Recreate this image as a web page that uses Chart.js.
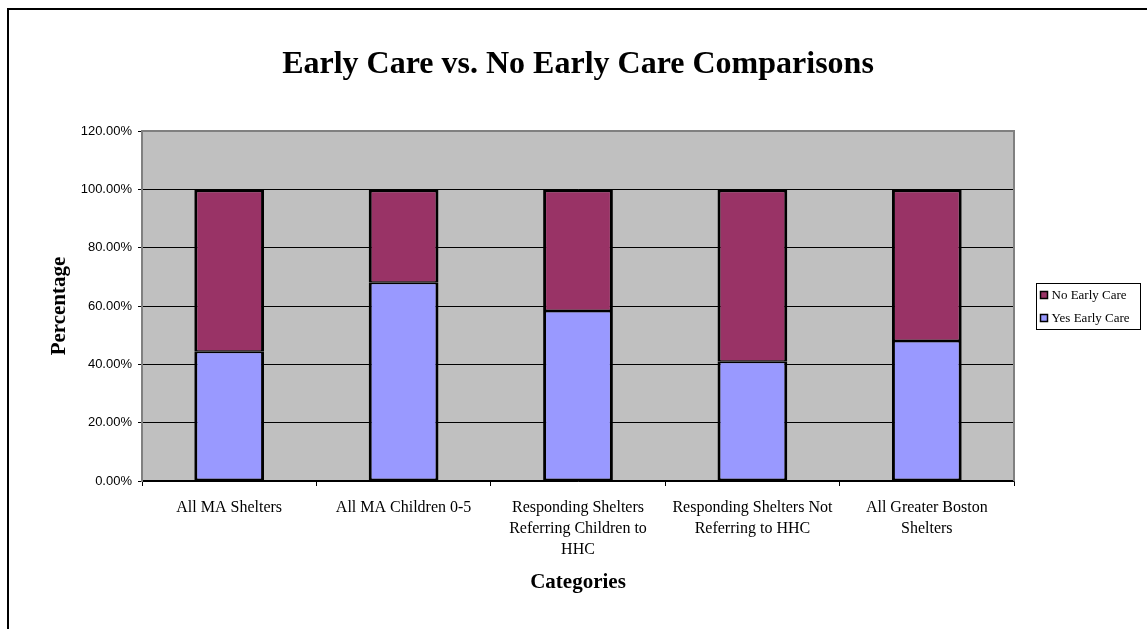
<!DOCTYPE html>
<html>
<head>
<meta charset="utf-8">
<title>Early Care vs. No Early Care Comparisons</title>
<script src="https://cdn.jsdelivr.net/npm/chart.js@4/dist/chart.umd.min.js"></script>
<style>
  html, body { margin: 0; padding: 0; background: #fff; overflow: hidden; }
  #wrap { position: relative; width: 1147px; height: 629px; }
  #frame { position: absolute; left: 7px; top: 8px; width: 1400px; height: 900px;
           border-left: 2px solid #000; border-top: 2px solid #000; pointer-events: none; }
  canvas { position: absolute; left: 0; top: 0; }
</style>
</head>
<body>
<div id="wrap">
  <canvas id="chart" width="1147" height="629"></canvas>
  <div id="frame"></div>
</div>
<script>
// Shelter categories (multi-line tick labels)
const categories = [
  ['All MA Shelters'],
  ['All MA Children 0-5'],
  ['Responding Shelters', 'Referring Children to', 'HHC'],
  ['Responding Shelters Not', 'Referring to HHC'],
  ['All Greater Boston', 'Shelters']
];
// Share of children with early care, in percent
const yesEarlyCare = [44.3, 68.0, 58.3, 40.9, 48.0];
// Share of children without early care, in percent
const noEarlyCare = [55.7, 32.0, 41.7, 59.1, 52.0];
// Value axis range and tick step
const yTicks = { min: 0, max: 120, step: 20 };

const serif = "'Liberation Serif', 'Times New Roman', Times, serif";
const sans = "'Liberation Sans', Arial, Helvetica, sans-serif";

// Grey plot background plus its top/right frame
const plotFrame = {
  id: 'plotFrame',
  beforeDraw(chart) {
    const { ctx, chartArea: a } = chart;
    ctx.save();
    ctx.fillStyle = '#C0C0C0';
    ctx.fillRect(a.left, a.top, a.right - a.left, a.bottom - a.top);
    ctx.restore();
  },
  beforeDatasetsDraw(chart) {
    const { ctx, chartArea: a } = chart;
    ctx.save();
    ctx.strokeStyle = '#808080';
    ctx.lineWidth = 2;
    ctx.beginPath();
    ctx.moveTo(a.left, a.top);
    ctx.lineTo(a.right, a.top);
    ctx.lineTo(a.right, a.bottom);
    ctx.stroke();
    ctx.restore();
  }
};

// Boxed legend on the right, top series listed first
const boxedLegend = {
  id: 'boxedLegend',
  afterDraw(chart) {
    const { ctx, chartArea: a } = chart;
    const items = chart.data.datasets.slice().reverse();
    const boxX = a.right + 22.5, boxW = 104, rowH = 23;
    const boxH = items.length * rowH;
    const midY = (a.top + a.bottom) / 2;
    const boxY = Math.round(midY - boxH / 2) + 0.5;
    ctx.save();
    ctx.strokeStyle = '#000';
    ctx.lineWidth = 1;
    ctx.strokeRect(boxX, boxY, boxW, boxH);
    ctx.font = '13px ' + serif;
    ctx.textBaseline = 'middle';
    ctx.textAlign = 'left';
    items.forEach((ds, i) => {
      const cy = boxY + rowH / 2 + i * rowH;
      ctx.fillStyle = ds.backgroundColor;
      ctx.fillRect(boxX + 4, cy - 3.5, 7, 7);
      ctx.strokeStyle = '#000';
      ctx.lineWidth = 1.5;
      ctx.strokeRect(boxX + 4, cy - 3.5, 7, 7);
      ctx.fillStyle = '#000';
      ctx.fillText(ds.label, boxX + 15, cy + 0.5);
    });
    ctx.restore();
  }
};

new Chart(document.getElementById('chart'), {
  type: 'bar',
  data: {
    labels: categories,
    datasets: [
      {
        label: 'Yes Early Care',
        data: yesEarlyCare,
        backgroundColor: '#9999FF',
        borderColor: '#000',
        borderWidth: { left: 3, right: 3, top: 1.5, bottom: 2 },
        borderSkipped: false
      },
      {
        label: 'No Early Care',
        data: noEarlyCare,
        backgroundColor: '#993366',
        borderColor: '#000',
        borderWidth: { left: 3, right: 3, top: 3, bottom: 1.5 },
        borderSkipped: false
      }
    ]
  },
  options: {
    responsive: false,
    animation: false,
    events: [],
    layout: { padding: { left: 0, right: 133, top: 0, bottom: 0 } },
    datasets: { bar: { categoryPercentage: 1, barPercentage: 0.4 } },
    plugins: {
      legend: { display: false },
      tooltip: { enabled: false },
      title: {
        display: true,
        text: 'Early Care vs. No Early Care Comparisons',
        fullSize: false,
        color: '#000',
        font: { family: serif, size: 32, weight: 'bold', lineHeight: 1.2 },
        padding: { top: 46, bottom: 46.6 }
      }
    },
    scales: {
      x: {
        stacked: true,
        afterFit(scale) { scale.height = 148; },
        grid: { drawOnChartArea: false, offset: true, color: '#000', tickLength: 5, tickWidth: 1 },
        border: { color: '#000', width: 1.5 },
        ticks: {
          color: '#000',
          padding: 11,
          maxRotation: 0,
          autoSkip: false,
          font: { family: serif, size: 16, lineHeight: 1.3125 }
        },
        title: {
          display: true,
          text: 'Categories',
          color: '#000',
          font: { family: serif, size: 21, weight: 'bold', lineHeight: 1.2 },
          padding: { top: 0, bottom: 34 }
        }
      },
      y: {
        stacked: true,
        min: yTicks.min,
        max: yTicks.max,
        afterFit(scale) { scale.width = 142; },
        grid: { color: '#000', lineWidth: 1, tickLength: 4, drawTicks: true },
        border: { color: '#808080', width: 2 },
        ticks: {
          stepSize: yTicks.step,
          color: '#000',
          padding: 6,
          font: { family: sans, size: 13 },
          callback: (v) => Number(v).toFixed(2) + '%'
        },
        title: {
          display: true,
          text: 'Percentage',
          color: '#000',
          font: { family: serif, size: 21, weight: 'bold', lineHeight: 1.2 },
          padding: { top: 47, bottom: 0 }
        }
      }
    }
  },
  plugins: [plotFrame, boxedLegend]
});
</script>
</body>
</html>
